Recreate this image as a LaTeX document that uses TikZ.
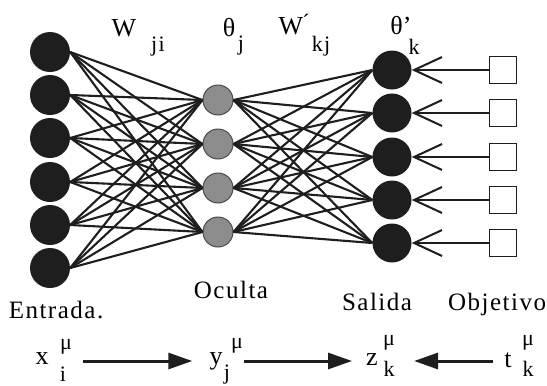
\documentclass[tikz,border=0pt]{standalone}
\usepackage{fontspec}
\setmainfont{Liberation Serif}
\newfontfamily\spaced[LetterSpace=6]{Liberation Serif}
\usetikzlibrary{arrows.meta, positioning}
\definecolor{Ink}{HTML}{1E1E1E}
\definecolor{Hidden}{HTML}{8C8C8C}

\tikzset{
  inunit/.style={circle, fill=Ink, minimum size=40pt, inner sep=0pt},
  hidunit/.style={circle, draw=Ink!80, line width=1pt, fill=Hidden, minimum size=30pt, inner sep=0pt},
  outunit/.style={circle, fill=Ink, minimum size=39pt, inner sep=0pt},
  target/.style={draw=Ink, line width=1.6pt, minimum size=27pt, inner sep=0pt},
  weight/.style={draw=Ink, line width=2.1pt},
  lbl/.style={font=\spaced\fontsize{25}{30}\selectfont, inner sep=0pt},
  sym/.style={font=\fontsize{26}{30}\selectfont, inner sep=0pt},
  idx/.style={font=\spaced\fontsize{22}{26}\selectfont, inner sep=0pt},
  flow/.style={-{Triangle[length=24pt,width=16pt]}, line width=3pt, draw=Ink},
  teach/.style={-{Straight Barb[length=28pt,width=26pt]}, line width=2pt, draw=Ink},
}

\begin{document}
\begin{tikzpicture}[x=1pt, y=-1pt]
    \useasboundingbox (0,0) rectangle (547,386);
    % units
    \foreach \i/\y in {1/52,2/95,3/138,4/182,5/225,6/268}
        \node[inunit] (in\i) at (50,\y) {};
    \foreach \j/\y in {1/100,2/144,3/188,4/232}
        \node[hidunit] (hid\j) at (218,\y) {};
    \foreach \k/\y in {1/70,2/113,3/157,4/200,5/243}{
        \node[outunit] (out\k) at (392,\y) {};
        \node[target] (obj\k) at (503,\y) {};
    }
    % weights
    \foreach \i in {1,...,6}
        \foreach \j in {1,...,4}
            \draw[weight] (in\i.east) -- (hid\j.west);
    \foreach \j in {1,...,4}
        \foreach \k in {1,...,5}
            \draw[weight] (hid\j.east) -- (out\k.west);
    \foreach \k in {1,...,5}
        \draw[teach] (obj\k.west) -- (out\k.east);
    % weight and threshold labels
    \node[sym] (wji) at (124,28) {W};
    \node[idx] (wjiidx) at (158,47) {ji};
    \node[sym] (thj) at (229,28) {θ};
    \node[idx] (thjidx) at (241,46) {j};
    \node[sym] (wkj) at (291,26) {W};
    \node[idx] (wkjacc) at (306,22) {´};
    \node[idx] (wkjidx) at (321,46) {kj};
    \node[sym] (thk) at (401,26) {θ'};
    \node[idx] (thkidx) at (414,47) {k};
    % layer names
    \node[lbl, anchor=base] (entrada) at (56,318) {Entrada.};
    \node[lbl, anchor=base] (oculta) at (231,298) {Oculta};
    \node[lbl, anchor=base] (salida) at (377,310) {Salida};
    \node[lbl, anchor=base] (objetivo) at (497,310) {Objetivo};
    % patterns
    \node[sym] (xs) at (42,359) {x};
    \node[idx] (xsup) at (66,347) {μ};
    \node[idx] (xsub) at (63,374) {i};
    \node[sym] (ys) at (216,361) {y};
    \node[idx] (ysup) at (237,346) {μ};
    \node[idx] (ysub) at (227,375) {j};
    \node[sym] (zs) at (372,360) {z};
    \node[idx] (zsup) at (389,343) {μ};
    \node[idx] (zsub) at (389,369) {k};
    \node[sym] (ts) at (508,360) {t};
    \node[idx] (tsup) at (528,343) {μ};
    \node[idx] (tsub) at (528,369) {k};
    \draw[flow, shorten <=11pt, shorten >=17pt] (xsup.east |- ys) -- (ys.west);
    \draw[flow, shorten <=1pt, shorten >=14pt] (ysup.east |- ys) -- (zs.west |- ys);
    \draw[flow, shorten <=11pt, shorten >=19pt] (ts.west |- ys) -- (zsup.east |- ys);
\end{tikzpicture}
\end{document}
